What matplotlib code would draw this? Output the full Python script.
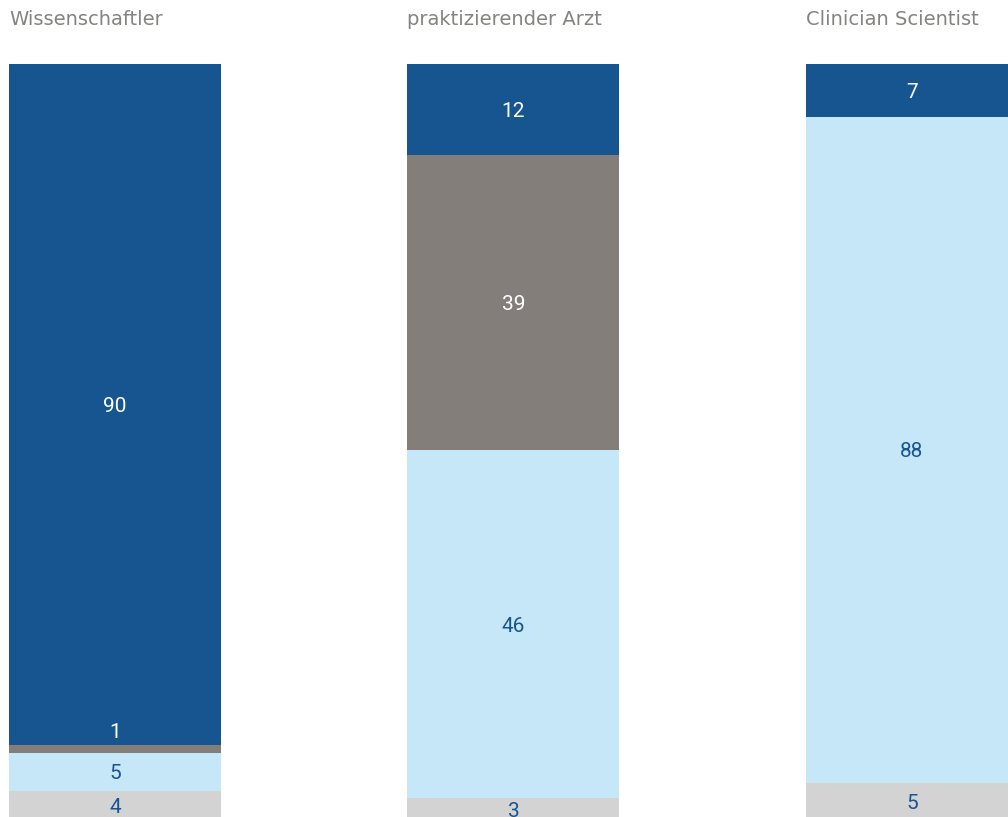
import matplotlib
matplotlib.use("Agg")
import matplotlib.pyplot as plt
import numpy as np

categories = ["Wissenschaftler", "praktizierender Arzt", "Clinician Scientist"]
# stacked from bottom to top
seg_bottom_gray = [4, 3, 5]
seg_light_blue = [5, 46, 88]
seg_gray = [1, 39, 0]
seg_dark_blue = [90, 12, 7]

series = [seg_bottom_gray, seg_light_blue, seg_gray, seg_dark_blue]
colors = ["#d3d3d3", "#c6e7f7", "#837e7a", "#175591"]
text_colors = ["#175591", "#175591", "#ffffff", "#ffffff"]

fig = plt.figure(figsize=(10.08, 8.17), dpi=100)
ax = fig.add_axes([0, 0, 1, 1])

x = np.arange(len(categories))
width = 0.532
bottom = np.zeros(len(categories))
for vals, col, tcol in zip(series, colors, text_colors):
    vals = np.array(vals, dtype=float)
    ax.bar(x, vals, width=width, bottom=bottom, color=col, linewidth=0)
    for xi, v, b in zip(x, vals, bottom):
        if v <= 0:
            continue
        if v < 2:
            ypos = b + v + 2.0 - 0.3
            tc = "#ffffff"
        else:
            ypos = b + v / 2 - 0.25
            tc = tcol
        ax.text(xi, ypos, f"{int(v)}", ha="center", va="center",
                color=tc, fontsize=15, family="Roboto")
    bottom += vals

for xi, cat in zip(x, categories):
    ax.text(xi - width / 2, 105.9, cat, ha="left", va="center",
            color="#858380", fontsize=14, family="DejaVu Sans")

ax.set_xlim(-0.2886, 2.241)
ax.set_ylim(0.53, 108.45)
ax.axis("off")

fig.savefig("out.png", dpi=100)
